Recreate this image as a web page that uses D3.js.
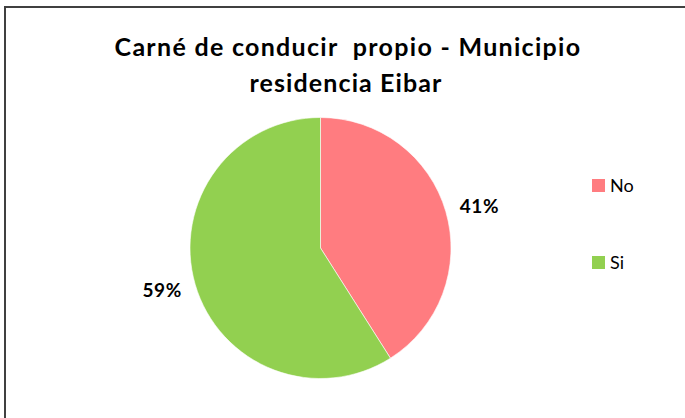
<!DOCTYPE html>
<html>
<head>
<meta charset="utf-8">
<script src="https://cdn.jsdelivr.net/npm/d3@7"></script>
<style>
  body { margin: 0; background: #fff; }
  text { font-family: Lato, "Open Sans", sans-serif; }
</style>
</head>
<body>
<div id="chart"></div>
<script>
// Data
var categories = ["No", "Si"];
var values = [41, 59];
var colors = ["#FF7C80", "#92D050"];
var titleLines = ["Carné de conducir  propio - Municipio", "residencia Eibar"];

var svgWidth = 685;
var svgHeight = 418;

var svg = d3.select("#chart")
  .append("svg")
  .attr("width", svgWidth)
  .attr("height", svgHeight);

// Chart border
svg.append("rect")
  .attr("x", 5)
  .attr("y", 7)
  .attr("width", 690)
  .attr("height", 430)
  .attr("fill", "#fff")
  .attr("stroke", "#404040")
  .attr("stroke-width", 2);

// Title
svg.append("text")
  .attr("x", 348)
  .attr("y", 56)
  .attr("text-anchor", "middle")
  .attr("font-size", 25)
  .attr("font-weight", "bold")
  .attr("letter-spacing", 1.3)
  .attr("fill", "#000")
  .style("white-space", "pre")
  .text(titleLines[0]);

svg.append("text")
  .attr("x", 346)
  .attr("y", 92)
  .attr("text-anchor", "middle")
  .attr("font-size", 25)
  .attr("font-weight", "bold")
  .attr("letter-spacing", 1.1)
  .attr("fill", "#000")
  .text(titleLines[1]);

// Pie
var cx = 320.5, cy = 248, radius = 130.5;

var pie = d3.pie().sort(null).value(d => d);
var arc = d3.arc().innerRadius(0).outerRadius(radius);

var pieGroup = svg.append("g")
  .attr("transform", `translate(${cx}, ${cy})`);

var arcs = pie(values);

pieGroup.selectAll("path")
  .data(arcs)
  .enter()
  .append("path")
  .attr("d", arc)
  .attr("fill", (d, i) => colors[i])
  .attr("stroke", "#fff")
  .attr("stroke-width", 0.6);

// Percent labels outside the slices
var labelArc = d3.arc().innerRadius(radius + 36).outerRadius(radius + 36);
pieGroup.selectAll(".pct")
  .data(arcs)
  .enter()
  .append("text")
  .attr("class", "pct")
  .attr("transform", function(d, i) {
    var c = labelArc.centroid(d);
    return `translate(${c[0] + (i === 0 ? -1 : 1.5)}, ${c[1] + (i === 0 ? 4.5 : -4.5)})`;
  })
  .attr("text-anchor", "middle")
  .attr("dy", "0.36em")
  .attr("font-size", 19)
  .attr("font-weight", "bold")
  .attr("letter-spacing", 0.6)
  .attr("fill", "#000")
  .text(d => d.data + "%");

// Legend
var legend = svg.append("g")
  .attr("transform", "translate(592, 179)");

var legendItems = legend.selectAll("g")
  .data(categories)
  .enter()
  .append("g")
  .attr("transform", (d, i) => `translate(0, ${i * 77})`);

legendItems.append("rect")
  .attr("width", 13)
  .attr("height", 13)
  .attr("fill", (d, i) => colors[i]);

legendItems.append("text")
  .attr("x", 18)
  .attr("y", 7)
  .attr("dy", "0.36em")
  .attr("font-size", 18)
  .attr("fill", "#000")
  .text(d => d);
</script>
</body>
</html>
